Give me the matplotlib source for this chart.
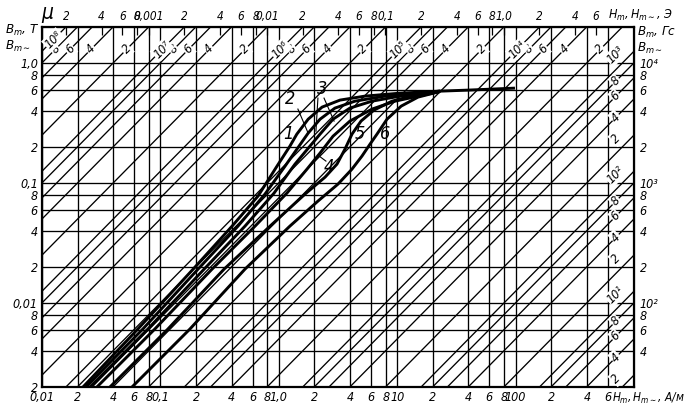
import numpy as np
import matplotlib.pyplot as plt

plt.rcParams['font.family'] = ['DejaVu Sans']
plt.rcParams['font.stretch'] = 'condensed'
plt.rcParams['font.style'] = 'italic'
plt.rcParams['mathtext.default'] = 'it'

MU0 = 4e-7 * np.pi

# кривые намагничивания 1-6: Hm, А/м и Bm, Т
h1 = [0.0222, 0.0647, 0.189, 0.403, 0.667, 0.966, 1.24, 1.42, 1.77, 2.32, 3.29, 5.35, 10.6, 23.0, 40.0, 98.8]
b1 = [0.002, 0.0061, 0.0192, 0.0438, 0.0779, 0.1386, 0.203, 0.256, 0.341, 0.430, 0.492, 0.531, 0.562, 0.584, 0.596, 0.619]
h2 = [0.0235, 0.0713, 0.208, 0.452, 0.764, 1.13, 1.48, 1.77, 2.23, 2.98, 4.40, 7.89, 23.0]
b2 = [0.002, 0.0061, 0.0192, 0.0438, 0.081, 0.1386, 0.203, 0.261, 0.341, 0.422, 0.482, 0.531, 0.584]
h3 = [0.0254, 0.0786, 0.234, 0.518, 0.911, 1.37, 1.83, 2.23, 2.87, 3.99, 6.13, 10.6, 23.0]
b3 = [0.002, 0.0061, 0.0192, 0.0438, 0.0825, 0.144, 0.203, 0.256, 0.341, 0.422, 0.482, 0.531, 0.584]
h4 = [0.0291, 0.090, 0.273, 0.630, 1.17, 1.73, 2.23, 2.87, 3.99, 6.13, 9.58, 23.0]
b4 = [0.002, 0.0061, 0.0192, 0.0438, 0.0825, 0.1308, 0.178, 0.246, 0.329, 0.414, 0.482, 0.58]
h5 = [0.0375, 0.116, 0.345, 0.843, 1.665, 2.46, 3.10, 3.62, 4.15, 4.95, 6.37, 9.04, 14.1, 23.0]
b5 = [0.002, 0.0061, 0.0192, 0.0438, 0.081, 0.1122, 0.144, 0.192, 0.256, 0.329, 0.406, 0.482, 0.541, 0.58]
h6 = [0.0576, 0.178, 0.518, 1.24, 2.14, 3.16, 4.15, 5.04, 5.89, 6.75, 8.20, 10.8, 15.0, 23.0]
b6 = [0.002, 0.0061, 0.0192, 0.0438, 0.0708, 0.0981, 0.1308, 0.168, 0.211, 0.256, 0.341, 0.438, 0.521, 0.58]
curves = [(h1, b1), (h2, b2), (h3, b3), (h4, b4), (h5, b5), (h6, b6)]

# подписи кривых (H, B)
curve_names = ['1', '2', '3', '4', '5', '6']
name_h = [1.20, 1.24, 2.32, 2.65, 4.85, 7.89]
name_b = [0.256, 0.501, 0.607, 0.136, 0.256, 0.256]

# линии постоянной проницаемости mu = d * 10^k
mu_digits = [1, 2, 4, 6, 8]
mu_powers = list(range(0, 9))
sup = {0: '⁰', 1: '¹', 2: '²', 3: '³', 4: '⁴', 5: '⁵', 6: '⁶', 7: '⁷', 8: '⁸'}

# шкалы
h_ticks = [0.01, 0.02, 0.04, 0.06, 0.08, 0.1, 0.2, 0.4, 0.6, 0.8, 1, 2, 4, 6, 8,
           10, 20, 40, 60, 80, 100, 200, 400, 600]
h_labels = ['0,01', '2', '4', '6', '8', '0,1', '2', '4', '6', '8', '1,0', '2', '4', '6', '8',
            '10', '2', '4', '6', '8', '100', '2', '4', '6']
b_ticks = [0.002, 0.004, 0.006, 0.008, 0.01, 0.02, 0.04, 0.06, 0.08, 0.1,
           0.2, 0.4, 0.6, 0.8, 1.0]
b_labels = ['2', '4', '6', '8', '0,01', '2', '4', '6', '8', '0,1', '2', '4', '6', '8', '1,0']
oe_ticks = [2e-4, 4e-4, 6e-4, 8e-4, 1e-3, 2e-3, 4e-3, 6e-3, 8e-3, 0.01, 0.02, 0.04, 0.06, 0.08,
            0.1, 0.2, 0.4, 0.6, 0.8, 1, 2, 4, 6]
oe_labels = ['2', '4', '6', '8', '0,001', '2', '4', '6', '8', '0,01', '2', '4', '6', '8',
             '0,1', '2', '4', '6', '8', '1,0', '2', '4', '6']
gs_ticks = [40, 60, 80, 100, 200, 400, 600, 800, 1000, 2000, 4000, 6000, 8000, 10000]
gs_labels = ['4', '6', '8', '10²', '2', '4', '6', '8', '10³', '2', '4', '6', '8', '10⁴']

fig = plt.figure(figsize=(6.96, 4.16), dpi=100)
ax = fig.add_axes([42 / 696, 29 / 416, 592 / 696, 360 / 416])
ax.set_xscale('log')
ax.set_yscale('log')
ax.set_xlim(0.01, 1000)
ax.set_ylim(0.002, 2)

ax.set_xticks(h_ticks)
ax.set_xticklabels(h_labels)
ax.set_yticks(b_ticks)
ax.set_yticklabels(b_labels)
ax.minorticks_off()
ax.tick_params(length=0, labelsize=9, pad=3)
ax.grid(True, color='k', lw=0.95)
for s in ax.spines.values():
    s.set_linewidth(1.6)

hh = np.array([0.01, 1000])
for k in mu_powers:
    for d in mu_digits:
        mu = d * 10 ** k
        ax.plot(hh, MU0 * mu * hh, color='k', lw=0.95, zorder=1)
        if mu < 2 or mu > 1e8:
            continue
        hl = min(max(1.3 / (MU0 * mu), 0.0125), 700)
        bl = MU0 * mu * hl
        if hl == 700 and d in (1, 2):
            bl *= 1.33
        txt = '10' + sup[k] if d == 1 else str(d)
        ax.text(hl, bl, txt, fontsize=9, rotation=45, ha='center', va='center', zorder=3,
                bbox=dict(fc='white', ec='none', pad=0.6))

for h, b in curves:
    ax.plot(h, b, color='k', lw=2.1, zorder=4, solid_capstyle='butt')

for n, x, y in zip(curve_names, name_h, name_b):
    ax.text(x, y, n, fontsize=13, ha='center', va='center', zorder=5)
# выноски
ax.plot([1.45, 1.77], [0.414, 0.261], color='k', lw=0.8, zorder=5)
ax.plot([2.14, 2.06], [0.511, 0.271], color='k', lw=0.8, zorder=5)
ax.plot([2.41, 2.93], [0.511, 0.329], color='k', lw=0.8, zorder=5)
ax.plot([2.50, 2.14], [0.1526, 0.171], color='k', lw=0.8, zorder=5)

top = ax.secondary_xaxis('top', functions=(lambda h: h * 4e-3 * np.pi, lambda o: o / (4e-3 * np.pi)))
top.set_xticks(oe_ticks)
top.set_xticklabels(oe_labels)
top.minorticks_off()
top.tick_params(direction='in', length=6, width=0.9, labelsize=8.5, pad=3)

right = ax.secondary_yaxis('right', functions=(lambda b: b * 1e4, lambda g: g / 1e4))
right.set_yticks(gs_ticks)
right.set_yticklabels(gs_labels)
right.minorticks_off()
right.tick_params(length=0, labelsize=9, pad=4)

fig.text(47 / 696, 1 - 13 / 416, 'μ', fontsize=15, ha='center', va='center')
fig.text(5 / 696, 1 - 30 / 416, r'$B_m$, Т', fontsize=9.5, ha='left', va='center')
fig.text(5 / 696, 1 - 46 / 416, r'$B_{m\sim}$', fontsize=9.5, ha='left', va='center')
fig.text(637 / 696, 1 - 32 / 416, r'$B_m$, Гс', fontsize=9.5, ha='left', va='center')
fig.text(637 / 696, 1 - 48 / 416, r'$B_{m\sim}$', fontsize=9.5, ha='left', va='center')
fig.text(608 / 696, 1 - 15 / 416, r'$H_m, H_{m\sim}$, Э', fontsize=9, ha='left', va='center')
fig.text(612 / 696, 1 - 398 / 416, r'$H_m, H_{m\sim}$, А/м', fontsize=8.5, ha='left', va='center')

fig.savefig('out.png', dpi=100)
